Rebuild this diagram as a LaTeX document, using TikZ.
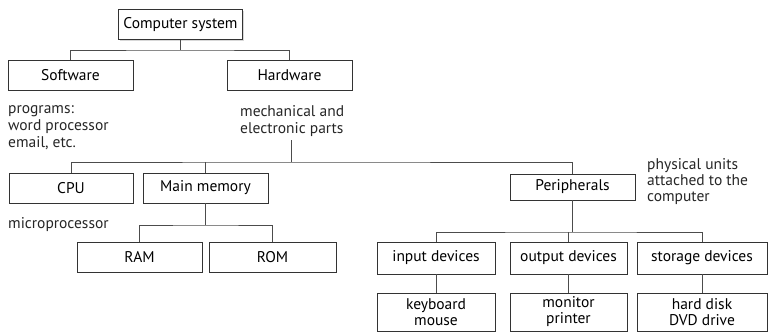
\documentclass[tikz,border=0pt]{standalone}
\usepackage{fontspec}
\setmainfont{PT Sans}
\usetikzlibrary{positioning,calc,shadows}

\tikzset{
  box/.style={draw=black!80, line width=0.5pt, fill=white, minimum height=30pt,
    inner sep=0pt, align=center, font=\fontsize{15.5}{16}\selectfont,
    drop shadow={shadow xshift=1.2pt, shadow yshift=-1.2pt, fill=black!30}},
  note/.style={anchor=north west, inner sep=0pt, align=left,
    font=\fontsize{15.5}{17}\selectfont, text=black!85},
  link/.style={draw=black!70, line width=0.5pt},
}

\begin{document}
\begin{tikzpicture}[x=1pt,y=-1pt]
  \useasboundingbox (0,0) rectangle (769,333);

  % top levels
  \node[box, minimum width=124pt] (sys)  at (180.5,24.5) {Computer system};
  \node[box, minimum width=125pt] (soft) at (70.5,75)    {Software};
  \node[box, minimum width=125pt] (hard) at (289.5,75)   {Hardware};
  \node[note] (softnote) at (8,105) {programs:\\word processor\\email, etc.};
  \node[note] (hardnote) at (240,105) {mechanical and\\electronic parts};

  % hardware parts
  \node[box, minimum width=124pt] (cpu) at (71,188)    {CPU};
  \node[box, minimum width=125pt] (mem) at (205.5,188) {Main memory};
  \node[box, minimum width=125pt, minimum height=26pt] (periph) at (572.5,187) {Peripherals};
  \node[note] (cpunote) at (8,217) {microprocessor};
  \node[note, font=\fontsize{15.5}{16}\selectfont] (perinote) at (647,158)
    {physical units\\attached to the\\computer};

  \node[box, minimum width=125pt] (ram) at (139.5,257) {RAM};
  \node[box, minimum width=127pt] (rom) at (272.5,257) {ROM};

  % peripherals
  \node[box, minimum width=118pt, minimum height=32pt] (inp)  at (436,258)   {input devices};
  \node[box, minimum width=117pt, minimum height=32pt] (outp) at (568.5,258) {output devices};
  \node[box, minimum width=130pt, minimum height=32pt] (stor) at (702,258)   {storage devices};
  \node[box, minimum width=118pt, minimum height=38pt] (kbd)  at (436,312)   {keyboard\\mouse};
  \node[box, minimum width=117pt, minimum height=38pt] (mon)  at (568.5,312) {monitor\\printer};
  \node[box, minimum width=130pt, minimum height=38pt] (hdd)  at (702,312)   {hard disk\\DVD drive};

  % forks
  \coordinate (j1) at (sys.south |- 0,50);
  \draw[link] (sys.south) -- (j1);
  \draw[link] (soft.north) |- (j1) -| (hard.north);

  \coordinate (j2) at ([yshift=-4pt]hardnote.south -| 291,0);
  \coordinate (j3) at (291,162);
  \draw[link] (j2) -- (j3);
  \draw[link] (cpu.north) |- (j3) -| (periph.north);
  \draw[link] (mem.north) -- (mem.north |- j3);

  \coordinate (j4) at (mem.south |- 0,225);
  \draw[link] (mem.south) -- (j4);
  \draw[link] (ram.north) |- (j4) -| (rom.north);

  \coordinate (j5) at (periph.south |- 0,232);
  \draw[link] (periph.south) -- (j5);
  \draw[link] (inp.north) |- (j5) -| (stor.north);
  \draw[link] (outp.north) -- (outp.north |- j5);

  \foreach \a/\b in {inp/kbd, outp/mon, stor/hdd}
    \draw[link] (\a.south) -- (\b.north);
\end{tikzpicture}
\end{document}
